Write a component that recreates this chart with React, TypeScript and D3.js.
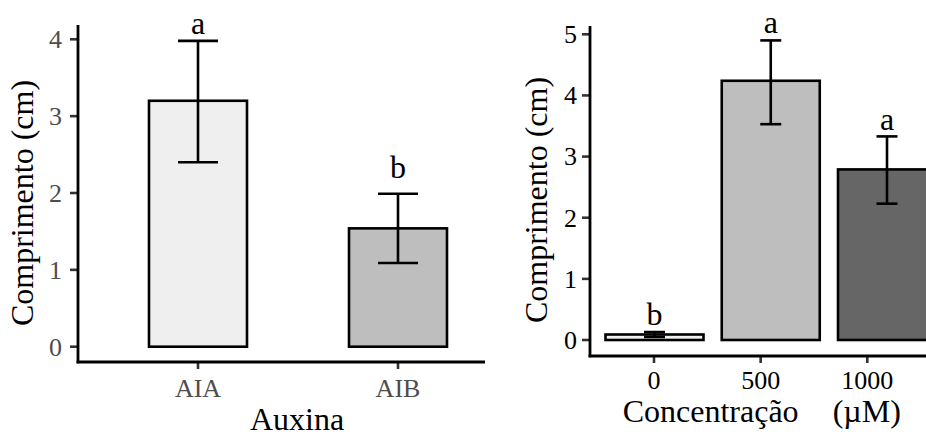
import React from "react";
import * as d3 from "d3";

// left panel: auxin type
const auxinas = ["AIA", "AIB"];
const auxMeans = [3.2, 1.54];
const auxLow = [2.4, 1.09];
const auxHigh = [3.98, 1.99];
const auxLetters = ["a", "b"];
const auxLetterY = [4.07, 2.19];
const auxFills = ["#efefef", "#bebebe"];
const auxTicks = [0, 1, 2, 3, 4];

// right panel: concentration (µM)
const concs = ["0", "500", "1000"];
const concMeans = [0.09, 4.24, 2.79];
const concLow = [0.05, 3.53, 2.23];
const concHigh = [0.13, 4.9, 3.33];
const concLetters = ["b", "a", "a"];
const concLetterY = [0.25, 5.02, 3.44];
const concFills = ["#f0f0f0", "#bebebe", "#666666"];
const concTicks = [0, 1, 2, 3, 4, 5];

const FONT = "'Liberation Serif', 'Times New Roman', serif";

function LeftPanel() {
  const y = d3.scaleLinear().domain([0, 4]).range([346.7, 39.3]);
  const x = d3.scalePoint().domain(auxinas).range([78, 518]).padding(0.6);
  const step = x.step();
  const barW = step * 0.49;
  const capW = step * 0.2;
  return (
    <g>
      {auxinas.map((c, i) => {
        const cx = x(c)!;
        return (
          <g key={c}>
            <rect
              x={cx - barW / 2}
              y={y(auxMeans[i])}
              width={barW}
              height={y(0) - y(auxMeans[i])}
              fill={auxFills[i]}
              stroke="#000"
              strokeWidth={2.6}
            />
            <line x1={cx} x2={cx} y1={y(auxLow[i])} y2={y(auxHigh[i])} stroke="#000" strokeWidth={2.6} />
            <line x1={cx - capW / 2} x2={cx + capW / 2} y1={y(auxLow[i])} y2={y(auxLow[i])} stroke="#000" strokeWidth={2.6} />
            <line x1={cx - capW / 2} x2={cx + capW / 2} y1={y(auxHigh[i])} y2={y(auxHigh[i])} stroke="#000" strokeWidth={2.6} />
            <text x={cx} y={y(auxLetterY[i])} textAnchor="middle" fontSize={32} fill="#000">
              {auxLetters[i]}
            </text>
            <line x1={cx} x2={cx} y1={362} y2={369} stroke="#333" strokeWidth={2.6} />
            <text x={cx} y={396.5} textAnchor="middle" fontSize={26} fill="#4d4d4d">
              {c}
            </text>
          </g>
        );
      })}
      {auxTicks.map((t) => (
        <g key={t}>
          <line x1={70} x2={78} y1={y(t)} y2={y(t)} stroke="#333" strokeWidth={2.6} />
          <text x={62} y={y(t) + 8.8} textAnchor="end" fontSize={26} fill="#4d4d4d">
            {t}
          </text>
        </g>
      ))}
      <line x1={78} x2={78} y1={25} y2={363.3} stroke="#000" strokeWidth={2.8} />
      <line x1={76.6} x2={485} y1={362} y2={362} stroke="#000" strokeWidth={2.8} />
      <text transform="translate(33,203) rotate(-90)" textAnchor="middle" fontSize={32} fill="#000">
        Comprimento (cm)
      </text>
      <text x={297} y={430} textAnchor="middle" fontSize={32} fill="#000">
        Auxina
      </text>
    </g>
  );
}

function RightPanel() {
  const y = d3.scaleLinear().domain([0, 5]).range([340, 34.3]);
  // bars and tick labels do not share spacing in the original figure
  const xb = d3.scalePoint().domain(concs).range([654.5, 887]);
  const xt = d3.scalePoint().domain(concs).range([654, 867.3]);
  const barW = 98;
  const capW = 21;
  return (
    <g>
      {concs.map((c, i) => {
        const cx = xb(c)!;
        const tx = xt(c)!;
        return (
          <g key={c}>
            <rect
              x={cx - barW / 2}
              y={y(concMeans[i])}
              width={barW}
              height={y(0) - y(concMeans[i])}
              fill={concFills[i]}
              stroke="#000"
              strokeWidth={2.6}
            />
            <line x1={cx} x2={cx} y1={y(concLow[i])} y2={y(concHigh[i])} stroke="#000" strokeWidth={2.6} />
            <line x1={cx - capW / 2} x2={cx + capW / 2} y1={y(concLow[i])} y2={y(concLow[i])} stroke="#000" strokeWidth={2.6} />
            <line x1={cx - capW / 2} x2={cx + capW / 2} y1={y(concHigh[i])} y2={y(concHigh[i])} stroke="#000" strokeWidth={2.6} />
            <text x={cx} y={y(concLetterY[i])} textAnchor="middle" fontSize={32} fill="#000">
              {concLetters[i]}
            </text>
            <line x1={tx} x2={tx} y1={356} y2={363} stroke="#333" strokeWidth={2.6} />
            <text x={tx} y={388.5} textAnchor="middle" fontSize={26} fill="#000">
              {c}
            </text>
          </g>
        );
      })}
      {concTicks.map((t) => (
        <g key={t}>
          <line x1={582} x2={590} y1={y(t)} y2={y(t)} stroke="#333" strokeWidth={2.6} />
          <text x={577} y={y(t) + 8.8} textAnchor="end" fontSize={26} fill="#000">
            {t}
          </text>
        </g>
      ))}
      <line x1={590} x2={590} y1={26} y2={357.3} stroke="#000" strokeWidth={2.8} />
      <line x1={588.6} x2={926} y1={356} y2={356} stroke="#000" strokeWidth={2.8} />
      <text transform="translate(547,200) rotate(-90)" textAnchor="middle" fontSize={32} fill="#000">
        Comprimento (cm)
      </text>
      <text x={622.7} y={421.5} fontSize={32} fill="#000">
        Concentração
      </text>
      <text x={832.7} y={421.5} fontSize={32} fill="#000">
        (µM)
      </text>
    </g>
  );
}

export default function App() {
  return (
    <svg
      width={926}
      height={435}
      style={{ position: "absolute", left: 0, top: 0, background: "#fff" }}
      fontFamily={FONT}
    >
      <rect width={926} height={435} fill="#fff" />
      <LeftPanel />
      <RightPanel />
    </svg>
  );
}
